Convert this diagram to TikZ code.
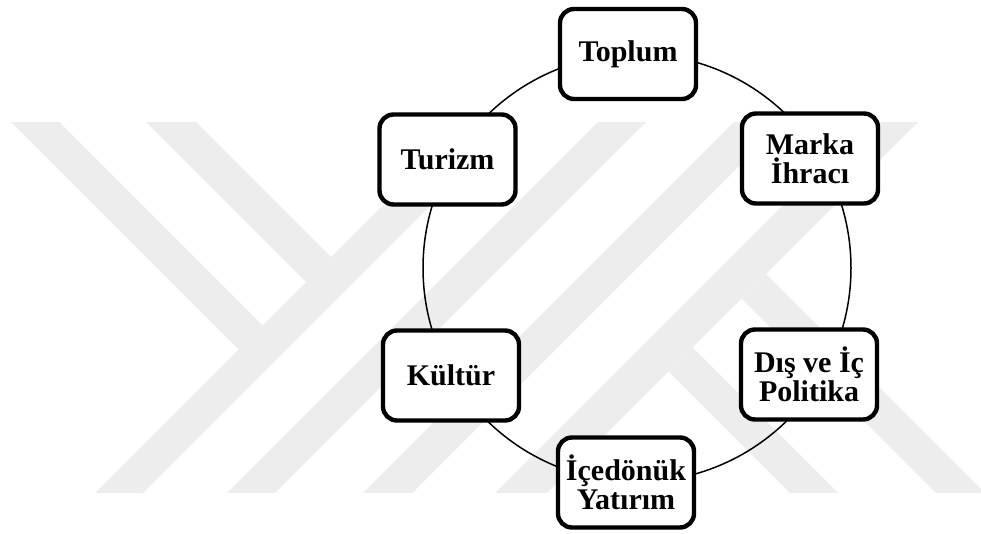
\documentclass[tikz,border=0pt]{standalone}
\usepackage{fontspec}
\setmainfont{Liberation Serif}
\tikzset{
	factor/.style={draw, line width=2.2pt, rounded corners=7pt, fill=white,
		minimum width=68pt, minimum height=45pt, inner sep=1pt, align=center,
		font=\bfseries\fontsize{15}{14.5}\selectfont},
	wmark/.style={fill=black!7}
}
\begin{document}
\begin{tikzpicture}[x=0.5pt, y=-0.5pt]
			\useasboundingbox (0,0) rectangle (981,534);
			
			%watermark bands
			\begin{scope}
				\clip (0,123) rectangle (981,493);
				\foreach \a/\b in {588/636, 720/768, 856/905, 988/1040}{
					\fill[wmark] (\a-100,100) -- (\b-100,100) -- (\b-520,520) -- (\a-520,520) -- cycle;
				}
				\fill[wmark] (-11,100) -- (37,100) -- (262.5,325.5) -- (238.5,349.5) -- cycle;
				\fill[wmark] (124,100) -- (174,100) -- (331,257) -- (306,282) -- cycle;
				\fill[wmark] (692.5,347.5) -- (865,520) -- (817,520) -- (668.5,371.5) -- cycle;
				\fill[wmark] (766,274) -- (1012,520) -- (963,520) -- (741.5,298.5) -- cycle;
			\end{scope}
			
			%ring
			\coordinate (centre) at (637,268);
			\draw[line width=0.75pt] (centre) circle [radius=107pt];
			
			%boxes
			\node[factor] (toplum) at (628,54) {Toplum};
			\node[factor] (marka) at (810,158.5) {Marka\\İhracı};
			\node[factor] (politika) at (809,374.5) {Dış ve İç\\Politika};
			\node[factor] (yatirim) at (626,482.5) {İçedönük\\Yatırım};
			\node[factor] (kultur) at (451,375.5) {Kültür};
			\node[factor] (turizm) at (447.5,159.5) {Turizm};
\end{tikzpicture}
\end{document}
